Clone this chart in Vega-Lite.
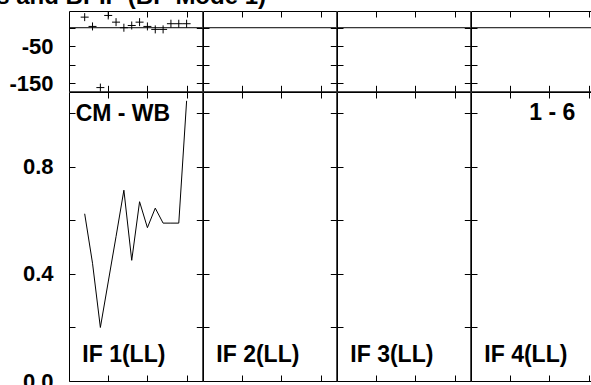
{
  "$schema": "https://vega.github.io/schema/vega-lite/v6.json",
  "padding": {"left": -75, "top": -16, "right": 0, "bottom": 0},
  "background": "white",
  "title": {"text": "Phases and BPIP (BP Mode 1)", "anchor": "start", "dx": -75, "fontSize": 24, "font": "Liberation Sans", "fontWeight": "bold", "baseline": "alphabetic", "offset": -19, "color": "black"},
  "datasets": {
    "phase": [
      {"x": 2, "phase": 28.5}, {"x": 3, "phase": 3.5}, {"x": 4, "phase": -161}, {"x": 5, "phase": 33},
      {"x": 6, "phase": 15}, {"x": 7, "phase": 0}, {"x": 8, "phase": 6}, {"x": 9, "phase": 15},
      {"x": 10, "phase": 3.5}, {"x": 11, "phase": -4.5}, {"x": 12, "phase": -4.5}, {"x": 13, "phase": 10.8},
      {"x": 14, "phase": 10.8}, {"x": 15, "phase": 10.8}
    ],
    "amp": [
      {"x": 2, "amp": 0.625}, {"x": 3, "amp": 0.44}, {"x": 4, "amp": 0.2}, {"x": 5, "amp": 0.37},
      {"x": 6, "amp": 0.54}, {"x": 7, "amp": 0.713}, {"x": 8, "amp": 0.451}, {"x": 9, "amp": 0.67},
      {"x": 10, "amp": 0.573}, {"x": 11, "amp": 0.646}, {"x": 12, "amp": 0.59}, {"x": 13, "amp": 0.59},
      {"x": 14, "amp": 0.59}, {"x": 15, "amp": 1.047}
    ]
  },
  "spacing": 0,
  "bounds": "flush",
  "columns": 4,
  "concat": [
    {
      "width": 133.3, "height": 80.3,
      "layer": [
        {"data": {"name": "phase"}, "mark": {"type": "point", "shape": "M-1,0H1M0,-1V1", "size": 64, "filled": false, "color": "black", "strokeWidth": 1, "opacity": 1},
         "encoding": {
           "x": {"field": "x", "type": "quantitative", "scale": {"domain": [0, 17], "nice": false, "zero": false}, "axis": {"orient": "bottom", "values": [5, 10, 15], "title": null}},
           "y": {"field": "phase", "type": "quantitative", "scale": {"domain": [-171, 45], "nice": false, "zero": false}, "axis": {"orient": "left", "values": [-150, -100, -50, 0], "labels": true, "labelExpr": "datum.value == -50 ? '-50' : datum.value == -150 ? '-150' : ''", "minExtent": 68, "maxExtent": 68, "title": null}}
         }},
        {"data": {"values": [{"ref": 0}]}, "mark": {"type": "rule", "color": "black", "strokeWidth": 1},
         "encoding": {"y": {"field": "ref", "type": "quantitative", "scale": {"domain": [-171, 45], "nice": false, "zero": false}, "axis": null}}},
        {"data": {"values": [{"ref": 8}]}, "mark": {"type": "point", "opacity": 0, "size": 0, "strokeWidth": 0},
         "encoding": {
           "x": {"field": "ref", "type": "quantitative", "scale": {"domain": [0, 17], "nice": false, "zero": false}, "axis": {"orient": "top", "values": [5, 10, 15], "title": null}},
           "y": {"field": "ref", "type": "quantitative", "scale": {"domain": [-171, 45], "nice": false, "zero": false}, "axis": {"orient": "right", "values": [-150, -100, -50, 0], "title": null}}
         }}
      ],
      "resolve": {"axis": {"x": "independent", "y": "independent"}}
    },
    {
      "width": 133.3, "height": 80.3,
      "layer": [
        {"data": {"values": [{"ref": 0}]}, "mark": {"type": "rule", "color": "black", "strokeWidth": 1},
         "encoding": {"y": {"field": "ref", "type": "quantitative", "scale": {"domain": [-171, 45], "nice": false, "zero": false}, "axis": null}}},
        {"data": {"values": [{"ref": 8}]}, "mark": {"type": "point", "opacity": 0, "size": 0, "strokeWidth": 0},
         "encoding": {
           "x": {"field": "ref", "type": "quantitative", "scale": {"domain": [0, 17], "nice": false, "zero": false}, "axis": {"orient": "bottom", "values": [5, 10, 15], "title": null}},
           "y": {"field": "ref", "type": "quantitative", "scale": {"domain": [-171, 45], "nice": false, "zero": false}, "axis": {"orient": "left", "values": [-150, -100, -50, 0], "title": null}}
         }},
        {"data": {"values": [{"ref": 8}]}, "mark": {"type": "point", "opacity": 0, "size": 0, "strokeWidth": 0},
         "encoding": {
           "x": {"field": "ref", "type": "quantitative", "scale": {"domain": [0, 17], "nice": false, "zero": false}, "axis": {"orient": "top", "values": [5, 10, 15], "title": null}},
           "y": {"field": "ref", "type": "quantitative", "scale": {"domain": [-171, 45], "nice": false, "zero": false}, "axis": {"orient": "right", "values": [-150, -100, -50, 0], "title": null}}
         }}
      ],
      "resolve": {"axis": {"x": "independent", "y": "independent"}}
    },
    {
      "width": 133.3, "height": 80.3,
      "layer": [
        {"data": {"values": [{"ref": 0}]}, "mark": {"type": "rule", "color": "black", "strokeWidth": 1},
         "encoding": {"y": {"field": "ref", "type": "quantitative", "scale": {"domain": [-171, 45], "nice": false, "zero": false}, "axis": null}}},
        {"data": {"values": [{"ref": 8}]}, "mark": {"type": "point", "opacity": 0, "size": 0, "strokeWidth": 0},
         "encoding": {
           "x": {"field": "ref", "type": "quantitative", "scale": {"domain": [0, 17], "nice": false, "zero": false}, "axis": {"orient": "bottom", "values": [5, 10, 15], "title": null}},
           "y": {"field": "ref", "type": "quantitative", "scale": {"domain": [-171, 45], "nice": false, "zero": false}, "axis": {"orient": "left", "values": [-150, -100, -50, 0], "title": null}}
         }},
        {"data": {"values": [{"ref": 8}]}, "mark": {"type": "point", "opacity": 0, "size": 0, "strokeWidth": 0},
         "encoding": {
           "x": {"field": "ref", "type": "quantitative", "scale": {"domain": [0, 17], "nice": false, "zero": false}, "axis": {"orient": "top", "values": [5, 10, 15], "title": null}},
           "y": {"field": "ref", "type": "quantitative", "scale": {"domain": [-171, 45], "nice": false, "zero": false}, "axis": {"orient": "right", "values": [-150, -100, -50, 0], "title": null}}
         }}
      ],
      "resolve": {"axis": {"x": "independent", "y": "independent"}}
    },
    {
      "width": 133.3, "height": 80.3,
      "layer": [
        {"data": {"values": [{"ref": 0}]}, "mark": {"type": "rule", "color": "black", "strokeWidth": 1},
         "encoding": {"y": {"field": "ref", "type": "quantitative", "scale": {"domain": [-171, 45], "nice": false, "zero": false}, "axis": null}}},
        {"data": {"values": [{"ref": 8}]}, "mark": {"type": "point", "opacity": 0, "size": 0, "strokeWidth": 0},
         "encoding": {
           "x": {"field": "ref", "type": "quantitative", "scale": {"domain": [0, 17], "nice": false, "zero": false}, "axis": {"orient": "bottom", "values": [5, 10, 15], "title": null}},
           "y": {"field": "ref", "type": "quantitative", "scale": {"domain": [-171, 45], "nice": false, "zero": false}, "axis": {"orient": "left", "values": [-150, -100, -50, 0], "title": null}}
         }},
        {"data": {"values": [{"ref": 8}]}, "mark": {"type": "point", "opacity": 0, "size": 0, "strokeWidth": 0},
         "encoding": {
           "x": {"field": "ref", "type": "quantitative", "scale": {"domain": [0, 17], "nice": false, "zero": false}, "axis": {"orient": "top", "values": [5, 10, 15], "title": null}},
           "y": {"field": "ref", "type": "quantitative", "scale": {"domain": [-171, 45], "nice": false, "zero": false}, "axis": {"orient": "right", "values": [-150, -100, -50, 0], "title": null}}
         }}
      ],
      "resolve": {"axis": {"x": "independent", "y": "independent"}}
    },
    {
      "width": 133.3, "height": 289,
      "layer": [
        {"data": {"name": "amp"}, "mark": {"type": "line", "color": "black", "strokeWidth": 1},
         "encoding": {
           "x": {"field": "x", "type": "quantitative", "scale": {"domain": [0, 17], "nice": false, "zero": false}, "axis": {"orient": "bottom", "values": [5, 10, 15], "title": null}},
           "y": {"field": "amp", "type": "quantitative", "scale": {"domain": [0, 1.08], "nice": false, "zero": false}, "axis": {"orient": "left", "values": [0, 0.2, 0.4, 0.6, 0.8, 1], "labels": true, "labelExpr": "datum.value == 0 ? '0.0' : datum.value == 0.4 ? '0.4' : datum.value == 0.8 ? '0.8' : ''", "minExtent": 68, "maxExtent": 68, "title": null}}
         }},
        {"data": {"values": [{"label": "CM - WB"}]}, "mark": {"type": "text", "align": "left", "baseline": "alphabetic", "fontSize": 23, "fontWeight": "bold", "font": "Liberation Sans", "color": "black"},
         "encoding": {
           "text": {"field": "label"},
           "x": {"datum": 0.85, "type": "quantitative", "scale": {"domain": [0, 17], "nice": false, "zero": false}, "axis": null},
           "y": {"datum": 0.972, "type": "quantitative", "scale": {"domain": [0, 1.08], "nice": false, "zero": false}, "axis": null}
         }},
        {"data": {"values": [{"label": "IF 1(LL)"}]}, "mark": {"type": "text", "align": "left", "baseline": "alphabetic", "fontSize": 23, "fontWeight": "bold", "font": "Liberation Sans", "color": "black"},
         "encoding": {
           "text": {"field": "label"},
           "x": {"datum": 1.7, "type": "quantitative", "scale": {"domain": [0, 17], "nice": false, "zero": false}, "axis": null},
           "y": {"datum": 0.071, "type": "quantitative", "scale": {"domain": [0, 1.08], "nice": false, "zero": false}, "axis": null}
         }},
        {"data": {"values": [{"ref": 0.5}]}, "mark": {"type": "point", "opacity": 0, "size": 0, "strokeWidth": 0},
         "encoding": {
           "x": {"field": "ref", "type": "quantitative", "scale": {"domain": [0, 17], "nice": false, "zero": false}, "axis": {"orient": "top", "values": [5, 10, 15], "title": null}},
           "y": {"field": "ref", "type": "quantitative", "scale": {"domain": [0, 1.08], "nice": false, "zero": false}, "axis": {"orient": "right", "values": [0, 0.2, 0.4, 0.6, 0.8, 1], "title": null}}
         }}
      ],
      "resolve": {"axis": {"x": "independent", "y": "independent"}}
    },
    {
      "width": 133.3, "height": 289,
      "layer": [
        {"data": {"values": [{"label": "IF 2(LL)"}]}, "mark": {"type": "text", "align": "left", "baseline": "alphabetic", "fontSize": 23, "fontWeight": "bold", "font": "Liberation Sans", "color": "black"},
         "encoding": {
           "text": {"field": "label"},
           "x": {"datum": 1.7, "type": "quantitative", "scale": {"domain": [0, 17], "nice": false, "zero": false}, "axis": {"orient": "bottom", "values": [5, 10, 15], "title": null}},
           "y": {"datum": 0.071, "type": "quantitative", "scale": {"domain": [0, 1.08], "nice": false, "zero": false}, "axis": {"orient": "left", "values": [0, 0.2, 0.4, 0.6, 0.8, 1], "title": null}}
         }},
        {"data": {"values": [{"ref": 0.5}]}, "mark": {"type": "point", "opacity": 0, "size": 0, "strokeWidth": 0},
         "encoding": {
           "x": {"field": "ref", "type": "quantitative", "scale": {"domain": [0, 17], "nice": false, "zero": false}, "axis": {"orient": "top", "values": [5, 10, 15], "title": null}},
           "y": {"field": "ref", "type": "quantitative", "scale": {"domain": [0, 1.08], "nice": false, "zero": false}, "axis": {"orient": "right", "values": [0, 0.2, 0.4, 0.6, 0.8, 1], "title": null}}
         }}
      ],
      "resolve": {"axis": {"x": "independent", "y": "independent"}}
    },
    {
      "width": 133.3, "height": 289,
      "layer": [
        {"data": {"values": [{"label": "IF 3(LL)"}]}, "mark": {"type": "text", "align": "left", "baseline": "alphabetic", "fontSize": 23, "fontWeight": "bold", "font": "Liberation Sans", "color": "black"},
         "encoding": {
           "text": {"field": "label"},
           "x": {"datum": 1.7, "type": "quantitative", "scale": {"domain": [0, 17], "nice": false, "zero": false}, "axis": {"orient": "bottom", "values": [5, 10, 15], "title": null}},
           "y": {"datum": 0.071, "type": "quantitative", "scale": {"domain": [0, 1.08], "nice": false, "zero": false}, "axis": {"orient": "left", "values": [0, 0.2, 0.4, 0.6, 0.8, 1], "title": null}}
         }},
        {"data": {"values": [{"ref": 0.5}]}, "mark": {"type": "point", "opacity": 0, "size": 0, "strokeWidth": 0},
         "encoding": {
           "x": {"field": "ref", "type": "quantitative", "scale": {"domain": [0, 17], "nice": false, "zero": false}, "axis": {"orient": "top", "values": [5, 10, 15], "title": null}},
           "y": {"field": "ref", "type": "quantitative", "scale": {"domain": [0, 1.08], "nice": false, "zero": false}, "axis": {"orient": "right", "values": [0, 0.2, 0.4, 0.6, 0.8, 1], "title": null}}
         }}
      ],
      "resolve": {"axis": {"x": "independent", "y": "independent"}}
    },
    {
      "width": 133.3, "height": 289,
      "layer": [
        {"data": {"values": [{"label": "IF 4(LL)"}]}, "mark": {"type": "text", "align": "left", "baseline": "alphabetic", "fontSize": 23, "fontWeight": "bold", "font": "Liberation Sans", "color": "black"},
         "encoding": {
           "text": {"field": "label"},
           "x": {"datum": 1.7, "type": "quantitative", "scale": {"domain": [0, 17], "nice": false, "zero": false}, "axis": {"orient": "bottom", "values": [5, 10, 15], "title": null}},
           "y": {"datum": 0.071, "type": "quantitative", "scale": {"domain": [0, 1.08], "nice": false, "zero": false}, "axis": {"orient": "left", "values": [0, 0.2, 0.4, 0.6, 0.8, 1], "title": null}}
         }},
        {"data": {"values": [{"label": "1 - 6"}]}, "mark": {"type": "text", "align": "right", "baseline": "alphabetic", "fontSize": 23, "fontWeight": "bold", "font": "Liberation Sans", "color": "black"},
         "encoding": {
           "text": {"field": "label"},
           "x": {"datum": 13.3, "type": "quantitative", "scale": {"domain": [0, 17], "nice": false, "zero": false}, "axis": null},
           "y": {"datum": 0.976, "type": "quantitative", "scale": {"domain": [0, 1.08], "nice": false, "zero": false}, "axis": null}
         }},
        {"data": {"values": [{"ref": 0.5}]}, "mark": {"type": "point", "opacity": 0, "size": 0, "strokeWidth": 0},
         "encoding": {
           "x": {"field": "ref", "type": "quantitative", "scale": {"domain": [0, 17], "nice": false, "zero": false}, "axis": {"orient": "top", "values": [5, 10, 15], "title": null}},
           "y": {"field": "ref", "type": "quantitative", "scale": {"domain": [0, 1.08], "nice": false, "zero": false}, "axis": {"orient": "right", "values": [0, 0.2, 0.4, 0.6, 0.8, 1], "title": null}}
         }}
      ],
      "resolve": {"axis": {"x": "independent", "y": "independent"}}
    }
  ],
  "config": {
    "font": "Liberation Sans",
    "view": {"stroke": "black", "strokeWidth": 1},
    "axis": {"grid": false, "domain": false, "ticks": true, "tickColor": "black", "tickWidth": 1, "tickSize": -6, "labels": false, "labelFont": "Liberation Sans", "labelFontSize": 22, "labelFontWeight": "bold", "labelColor": "black", "labelPadding": 22, "minExtent": 0, "maxExtent": 0}
  }
}
